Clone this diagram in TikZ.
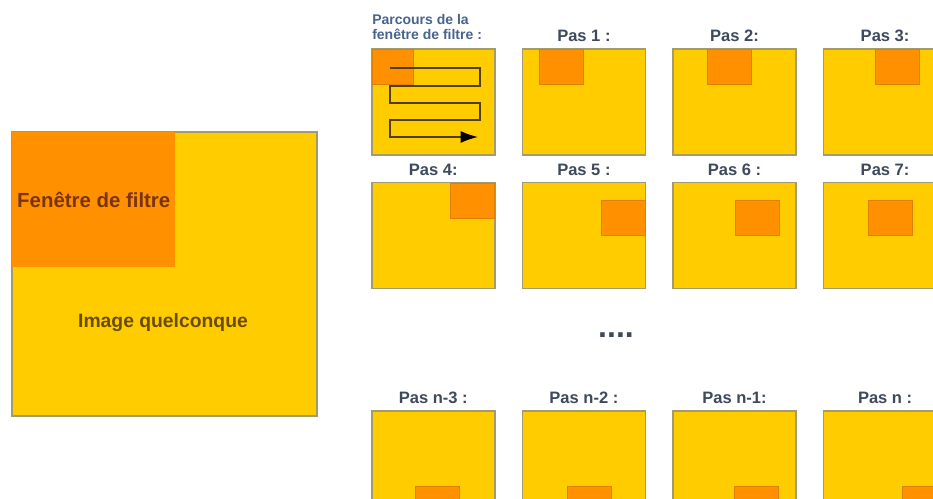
\documentclass[tikz,border=0pt]{standalone}
\usepackage{fontspec}
\setmainfont{Liberation Sans}
\usetikzlibrary{positioning,arrows.meta}
\definecolor{flyellow}{HTML}{FFCC00}
\definecolor{florange}{HTML}{FF9100}
\definecolor{flborder}{HTML}{A39A6E}
\definecolor{flslate}{HTML}{3E4A5C}
\definecolor{flblue}{HTML}{48648E}
\definecolor{flbrown}{HTML}{7A330A}
\definecolor{flolive}{HTML}{6A4C00}
\definecolor{flpath}{HTML}{4E3E10}

\begin{document}
\begin{tikzpicture}[
  x=0.75pt, y=-0.75pt,
  node distance=19.5pt and 19.5pt,
  imgbox/.style={draw=flborder, line width=1.2pt, fill=flyellow, inner sep=0pt, anchor=north west, minimum width=228.75pt, minimum height=213pt},
  bigfen/.style={fill=florange, inner sep=0pt, anchor=north west, minimum width=122.25pt, minimum height=101.25pt, font=\fontsize{15.3}{18}\selectfont\bfseries, text=flbrown},
  bigtxt/.style={inner sep=0pt, font=\fontsize{14.5}{17}\selectfont\bfseries, text=flolive},
  pasbox/.style={draw=flborder, line width=1.2pt, fill=flyellow, inner sep=0pt, minimum width=92.25pt, minimum height=79.5pt},
  fen/.style={fill=florange, draw=florange!88!black, line width=0.3pt, inner sep=0pt, anchor=north west, minimum width=33pt, minimum height=26.25pt},
  pastxt/.style={inner sep=0pt, font=\fontsize{12.4}{14}\selectfont\bfseries, text=flslate},
  parctxt/.style={inner sep=0pt, align=left, font=\fontsize{10.5}{11.25}\selectfont\bfseries, text=flblue},
  dotstxt/.style={inner sep=0pt, font=\fontsize{24}{28}\selectfont\bfseries, text=flslate},
  serp/.style={draw=flpath, line width=1.2pt, -{Latex[length=13pt,width=9pt,color=black]}}
]
\path[use as bounding box, fill=white] (0,0) rectangle (933,499);
\clip (0,0) rectangle (933,499);

\node[imgbox] (img) at (11,131) {};
\node[bigfen] (bigwin) at ([shift={(1,1)}]img.north west) {Fenêtre de filtre};
\node[bigtxt] (imgtxt) at (163,323) {Image quelconque};

\node[pasbox, anchor=north west] (parc) at (371,48) {};
\node[pasbox, right=of parc] (p1) {};
\node[pasbox, right=of p1] (p2) {};
\node[pasbox, right=of p2] (p3) {};
\node[pasbox, below=of parc] (p4) {};
\node[pasbox, right=of p4] (p5) {};
\node[pasbox, right=of p5] (p6) {};
\node[pasbox, right=of p6] (p7) {};
\node[pasbox, below=90.75pt of p4] (pn3) {};
\node[pasbox, right=of pn3] (pn2) {};
\node[pasbox, right=of pn2] (pn1) {};
\node[pasbox, right=of pn1] (pn) {};

\node[fen, minimum width=31pt] (wparc) at ([shift={(1,1)}]parc.north west) {};
\node[fen] (w1) at ([shift={(17,1)}]p1.north west) {};
\node[fen] (w2) at ([shift={(35,1)}]p2.north west) {};
\node[fen] (w3) at ([shift={(52,1)}]p3.north west) {};
\node[fen] (w4) at ([shift={(79,1)}]p4.north west) {};
\node[fen] (w5) at ([shift={(79,18)}]p5.north west) {};
\node[fen] (w6) at ([shift={(63,18)}]p6.north west) {};
\node[fen] (w7) at ([shift={(45,18)}]p7.north west) {};
\node[fen] (wn3) at ([shift={(44,76)}]pn3.north west) {};
\node[fen] (wn2) at ([shift={(45,76)}]pn2.north west) {};
\node[fen] (wn1) at ([shift={(62,76)}]pn1.north west) {};
\node[fen] (wn) at ([shift={(79,76)}]pn.north west) {};

\coordinate (sstart) at ([shift={(19,20)}]parc.north west);
\draw[serp] (sstart) -- ++(90,0) -- ++(0,18) -- ++(-90,0) -- ++(0,17) -- ++(90,0) -- ++(0,17) -- ++(-90,0) -- ++(0,17) -- ++(88,0);

\node[parctxt, anchor=south west] (tparc) at ([shift={(1,-8)}]parc.north west) {Parcours de la\\fenêtre de filtre :};
\node[pastxt, above=4.5pt of p1] (t1) {Pas 1 :};
\node[pastxt, above=4.5pt of p2] (t2) {Pas 2:};
\node[pastxt, above=4.5pt of p3] (t3) {Pas 3:};
\node[pastxt, above=4.5pt of p4] (t4) {Pas 4:};
\node[pastxt, above=4.5pt of p5] (t5) {Pas 5 :};
\node[pastxt, above=4.5pt of p6] (t6) {Pas 6 :};
\node[pastxt, above=4.5pt of p7] (t7) {Pas 7:};
\node[pastxt, above=4.5pt of pn3] (tn3) {Pas n-3 :};
\node[pastxt, above=4.5pt of pn2] (tn2) {Pas n-2 :};
\node[pastxt, above=4.5pt of pn1] (tn1) {Pas n-1:};
\node[pastxt, above=4.5pt of pn] (tn) {Pas n :};
\node[dotstxt] (etc) at (616,335) {....};
\end{tikzpicture}
\end{document}
